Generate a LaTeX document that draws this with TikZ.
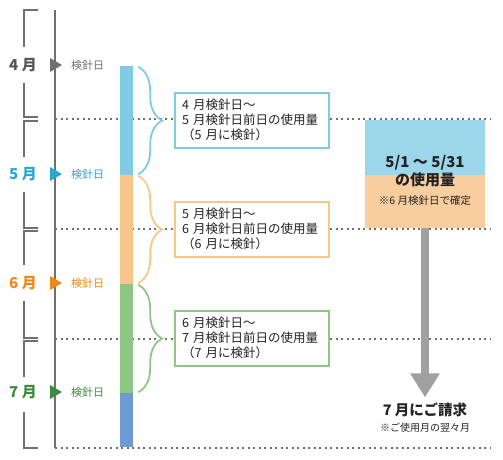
\documentclass[tikz,border=0pt]{standalone}
\usepackage{fontspec}
\setmainfont{Noto Sans CJK JP}
\usetikzlibrary{arrows.meta,positioning,decorations.pathreplacing}
\definecolor{axisCol}{RGB}{112, 112, 112}
\definecolor{aprText}{RGB}{85, 85, 85}
\definecolor{mayText}{RGB}{41, 166, 211}
\definecolor{junText}{RGB}{240, 135, 20}
\definecolor{julText}{RGB}{63, 138, 63}
\definecolor{barCyan}{RGB}{126, 203, 227}
\definecolor{barOrange}{RGB}{248, 198, 139}
\definecolor{barGreen}{RGB}{140, 200, 132}
\definecolor{barBlue}{RGB}{108, 155, 211}
\definecolor{useTopCol}{RGB}{155, 214, 234}
\definecolor{useBotCol}{RGB}{249, 206, 158}
\definecolor{arrowGray}{RGB}{160, 160, 160}
\definecolor{textCol}{RGB}{35, 35, 35}

\begin{document}
\begin{tikzpicture}[
    x=1pt, y=-1pt,
    % Month label on the left
    monthLbl/.style={
        font=\fontsize{15}{15}\selectfont\bfseries,
        inner sep=1pt
    },
    % Reading day label
    readLbl/.style={
        font=\fontsize{11}{12}\selectfont,
        inner sep=1pt
    },
    % Month bracket on the far left
    bracketLine/.style={
        line width=2pt,
        draw=axisCol
    },
    % Dotted separators
    dotLine/.style={
        line width=1.6pt,
        draw=axisCol,
        dash pattern=on 2.2pt off 3.3pt
    },
    % Coloured bar pieces
    barSeg/.style={
        rectangle,
        minimum width=13pt,
        inner sep=0pt,
        draw=none
    },
    % Curly braces
    periodBrace/.style={
        line width=1.8pt,
        decorate,
        decoration={brace, amplitude=24pt, aspect=0.5}
    },
    % Usage period boxes
    periodBox/.style={
        rectangle,
        line width=2pt,
        fill=white,
        text width=140pt,
        inner xsep=7pt,
        minimum height=55pt,
        align=left,
        text=textCol,
        font=\fontsize{12.5}{15}\selectfont
    },
    % Billing arrow
    billArrow/.style={
        -{Triangle[width=28pt, length=24pt]},
        line width=8pt,
        draw=arrowGray
    }
]

    \useasboundingbox (0,0) rectangle (503,459);

    % Dotted separators (behind everything)
    \draw[dotLine] (55,119) -- (490,119);
    \draw[dotLine] (55,229) -- (490,229);
    \draw[dotLine] (55,339) -- (490,339);
    \draw[dotLine] (55,448) -- (490,448);

    % Time axis
    \draw[line width=2pt, draw=axisCol] (55,10) -- (55,448);

    % Month brackets
    \draw[bracketLine] (38,10) -| (24,47);
    \draw[bracketLine] (24,83) |- (38,117);
    \draw[bracketLine] (38,121) -| (24,157);
    \draw[bracketLine] (24,192) |- (38,228);
    \draw[bracketLine] (38,231) -| (24,265);
    \draw[bracketLine] (24,301) |- (38,338);
    \draw[bracketLine] (38,341) -| (24,377);
    \draw[bracketLine] (24,412) |- (38,448);

    % Month labels
    \node[monthLbl, text=aprText] (monApr) at (23,65) {4 月};
    \node[monthLbl, text=mayText] (monMay) at (23,174) {5 月};
    \node[monthLbl, text=junText] (monJun) at (23,283) {6 月};
    \node[monthLbl, text=julText] (monJul) at (23,392) {7 月};

    % Reading day markers
    \fill[axisCol] (50,58) -- (62,65) -- (50,72) -- cycle;
    \fill[mayText] (50,167) -- (62,174) -- (50,181) -- cycle;
    \fill[junText] (50,276) -- (62,283) -- (50,290) -- cycle;
    \fill[julText] (50,385) -- (62,392) -- (50,399) -- cycle;

    \node[readLbl, text=axisCol] (readApr) at (87.5,65) {検針日};
    \node[readLbl, text=mayText] (readMay) at (87.5,174) {検針日};
    \node[readLbl, text=junText] (readJun) at (87.5,283) {検針日};
    \node[readLbl, text=julText] (readJul) at (87.5,392) {検針日};

    % Coloured bar
    \node[barSeg, fill=barCyan, minimum height=109pt] (barApr) at (126.5,120.5) {};
    \node[barSeg, fill=barOrange, minimum height=109pt] (barMay) at (126.5,229.5) {};
    \node[barSeg, fill=barGreen, minimum height=109pt] (barJun) at (126.5,338.5) {};
    \node[barSeg, fill=barBlue, minimum height=54pt] (barJul) at (126.5,420) {};

    % Braces
    \draw[periodBrace, draw=barCyan]
        ([xshift=5pt,yshift=-1pt]barApr.north east) -- ([xshift=5pt,yshift=1pt]barApr.south east);
    \draw[periodBrace, draw=barOrange]
        ([xshift=5pt,yshift=-1pt]barMay.north east) -- ([xshift=5pt,yshift=1pt]barMay.south east);
    \draw[periodBrace, draw=barGreen]
        ([xshift=5pt,yshift=-1pt]barJun.north east) -- ([xshift=5pt,yshift=1pt]barJun.south east);

    % Period boxes
    \node[periodBox, draw=barCyan] (boxApr) at (252,120) {
        4 月検針日〜\\
        5 月検針日前日の使用量\\
        （5 月に検針）
    };
    \node[periodBox, draw=barOrange] (boxMay) at (252,229) {
        5 月検針日〜\\
        6 月検針日前日の使用量\\
        （6 月に検針）
    };
    \node[periodBox, draw=barGreen] (boxJun) at (252,338) {
        6 月検針日〜\\
        7 月検針日前日の使用量\\
        （7 月に検針）
    };

    % May usage summary
    \node[rectangle, fill=useTopCol, minimum width=120pt, minimum height=55pt, inner sep=0pt]
        (useTop) at (425,147.5) {};
    \node[rectangle, fill=useBotCol, minimum width=120pt, minimum height=53pt, inner sep=0pt]
        (useBot) at (425,201.5) {};
    \node[align=center, text=textCol, font=\fontsize{15}{18}\selectfont\bfseries]
        (useMain) at (425,171) {5/1 〜 5/31\\の使用量};
    \node[text=textCol, font=\fontsize{10.5}{12}\selectfont]
        (useNote) at (425,201) {※6 月検針日で確定};

    % Billing
    \node[text=textCol, font=\fontsize{14.5}{16}\selectfont\bfseries]
        (billMain) at (425,410) {7 月にご請求};
    \node[text=textCol, font=\fontsize{10}{12}\selectfont]
        (billNote) at (425,428) {※ご使用月の翌々月};

    \draw[billArrow] (useBot.south) -- ([yshift=2pt]billMain.north);

\end{tikzpicture}
\end{document}
